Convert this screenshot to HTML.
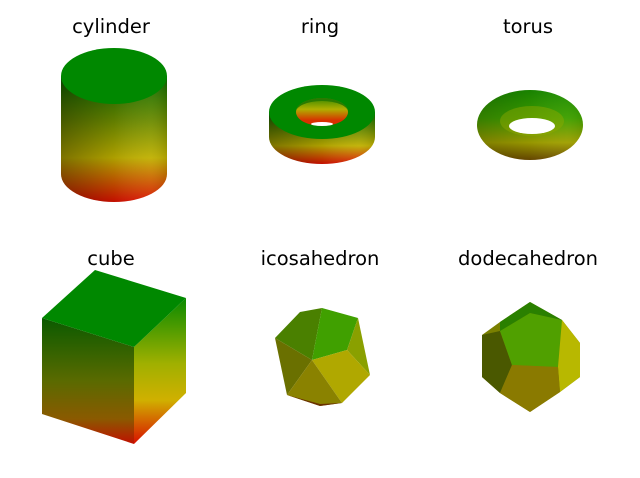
<!DOCTYPE html>
<html><head><meta charset="utf-8"><style>
body{margin:0;background:#fff}
svg{display:block}
text{font-family:"DejaVu Sans","Liberation Sans",sans-serif;font-size:19.5px;fill:#000}
</style></head><body>
<svg width="640" height="478" viewBox="0 0 640 478">
<defs>
<linearGradient id="bodyV" x1="0" y1="0" x2="0" y2="1">
<stop offset="0" stop-color="#0a6a00"/><stop offset="0.35" stop-color="#6a8a00"/><stop offset="0.65" stop-color="#c0b000"/><stop offset="1" stop-color="#d81000"/></linearGradient>
<linearGradient id="shadeH" x1="0" y1="0" x2="1" y2="0">
<stop offset="0" stop-color="#000" stop-opacity="0.35"/><stop offset="0.5" stop-color="#000" stop-opacity="0.1"/><stop offset="0.85" stop-color="#fff" stop-opacity="0.05"/><stop offset="1" stop-color="#000" stop-opacity="0.1"/></linearGradient>
<linearGradient id="torusG" x1="0" y1="0" x2="0" y2="1">
<stop offset="0" stop-color="#1a8a00"/><stop offset="0.4" stop-color="#40a000"/><stop offset="0.75" stop-color="#a0a000"/><stop offset="1" stop-color="#6a4a00"/></linearGradient>
<linearGradient id="holeG" x1="0" y1="0" x2="0" y2="1">
<stop offset="0" stop-color="#3a8a00"/><stop offset="0.4" stop-color="#b0b000"/><stop offset="0.8" stop-color="#d83000"/><stop offset="1" stop-color="#d83000"/></linearGradient>
<linearGradient id="frontG" x1="0" y1="0" x2="0" y2="1">
<stop offset="0" stop-color="#0a5a00"/><stop offset="0.5" stop-color="#5a6a00"/><stop offset="0.8" stop-color="#8a5a00"/><stop offset="1" stop-color="#c01000"/></linearGradient>
<linearGradient id="rightG" x1="0" y1="0" x2="0" y2="1">
<stop offset="0" stop-color="#0a8a00"/><stop offset="0.45" stop-color="#a0b000"/><stop offset="0.7" stop-color="#d0b000"/><stop offset="1" stop-color="#d81000"/></linearGradient>
</defs>

<text x="111" y="33" text-anchor="middle">cylinder</text>
<text x="320" y="33" text-anchor="middle">ring</text>
<text x="528" y="33" text-anchor="middle">torus</text>
<text x="111" y="265" text-anchor="middle">cube</text>
<text x="320" y="265" text-anchor="middle">icosahedron</text>
<text x="528" y="265" text-anchor="middle">dodecahedron</text>

<g>
<path d="M61 76 L61 174 A53 28 0 0 0 167 174 L167 76 Z" fill="url(#bodyV)"/>
<path d="M61 76 L61 174 A53 28 0 0 0 167 174 L167 76 Z" fill="url(#shadeH)"/>
<ellipse cx="114" cy="76" rx="53" ry="28" fill="#008800"/>
</g>

<g>
<path d="M269 112 L269 137 A53 27 0 0 0 375 137 L375 112 Z" fill="url(#bodyV)"/>
<path d="M269 112 L269 137 A53 27 0 0 0 375 137 L375 112 Z" fill="url(#shadeH)"/>
<ellipse cx="322" cy="112" rx="53" ry="27" fill="#008800"/>
<ellipse cx="322" cy="112" rx="26" ry="14" fill="url(#holeG)"/>
<path d="M296 112 A26 14 0 0 1 348 112 A26 11 0 0 0 296 112 Z" fill="#2a7a00"/>
<ellipse cx="322" cy="124" rx="11" ry="2" fill="#fff"/>
</g>

<g>
<ellipse cx="530" cy="125" rx="53" ry="35" fill="url(#torusG)"/>
<ellipse cx="530" cy="125" rx="53" ry="35" fill="url(#shadeH)" opacity="0.6"/>
<ellipse cx="532" cy="121" rx="32" ry="15" fill="#90a800" opacity="0.45"/>
<ellipse cx="532" cy="126" rx="23" ry="8" fill="#fff"/>
</g>

<g>
<polygon points="42,318 134,347 134,444 42,414" fill="url(#frontG)"/>
<polygon points="134,347 186,298 186,393 134,444" fill="url(#rightG)"/>
<polygon points="42,318 95,270 186,298 134,347" fill="#008800"/>
</g>

<g>
<polygon points="275,338 300,312 322,308 312,360" fill="#4a8000"/>
<polygon points="322,308 358,318 347,350 312,360" fill="#40a000"/>
<polygon points="358,318 370,375 347,350" fill="#8aa000"/>
<polygon points="312,360 347,350 370,375 342,403" fill="#b0a800"/>
<polygon points="275,338 312,360 287,395" fill="#6a7000"/>
<polygon points="312,360 342,403 320,406 287,395" fill="#8a8200"/>
<polygon points="287,395 320,406 342,403 320,404" fill="#6a3000"/>
</g>

<g>
<polygon points="530,302 562,320 580,343 580,377 560,392 530,412 500,393 482,377 482,335 500,322" fill="#7a8000"/>
<polygon points="482,335 500,331 512,365 500,393 482,377" fill="#4a5800"/>
<polygon points="500,331 530,313 562,320 558,367 512,365" fill="#50a000"/>
<polygon points="562,320 580,343 580,377 560,392 558,367" fill="#b8b800"/>
<polygon points="512,365 558,367 560,392 530,412 500,393" fill="#8a7a00"/>
<polygon points="530,302 562,320 530,313 500,331 500,322" fill="#2a8000"/>
</g>
</svg>
</body></html>
